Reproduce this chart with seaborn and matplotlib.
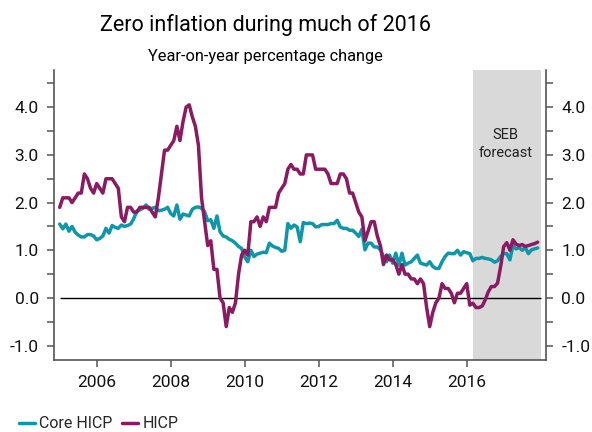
import numpy as np
import pandas as pd
import matplotlib
matplotlib.use('Agg')
import matplotlib.pyplot as plt
import seaborn as sns

# monthly data, Jan 2005 - Dec 2017 (from Mar 2016: SEB forecast)
years = list(range(2005, 2018))

hicp = [
    [1.9, 2.1, 2.1, 2.1, 2.0, 2.1, 2.2, 2.2, 2.6, 2.5, 2.3, 2.2],      # 2005
    [2.4, 2.3, 2.2, 2.5, 2.5, 2.5, 2.4, 2.3, 1.7, 1.6, 1.9, 1.9],      # 2006
    [1.8, 1.8, 1.9, 1.9, 1.9, 1.9, 1.8, 1.7, 2.1, 2.6, 3.1, 3.1],      # 2007
    [3.2, 3.3, 3.6, 3.3, 3.7, 4.0, 4.05, 3.8, 3.6, 3.2, 2.1, 1.6],     # 2008
    [1.1, 1.2, 0.6, 0.6, 0.0, -0.1, -0.6, -0.2, -0.3, -0.1, 0.5, 0.9], # 2009
    [1.0, 0.9, 1.6, 1.6, 1.7, 1.5, 1.7, 1.6, 1.9, 1.9, 1.9, 2.2],      # 2010
    [2.3, 2.4, 2.7, 2.8, 2.7, 2.7, 2.6, 2.6, 3.0, 3.0, 3.0, 2.7],      # 2011
    [2.7, 2.7, 2.7, 2.6, 2.4, 2.4, 2.4, 2.6, 2.6, 2.5, 2.2, 2.2],      # 2012
    [2.0, 1.8, 1.7, 1.2, 1.4, 1.6, 1.6, 1.3, 1.1, 0.7, 0.9, 0.8],      # 2013
    [0.8, 0.7, 0.5, 0.7, 0.5, 0.5, 0.4, 0.4, 0.3, 0.4, 0.3, -0.2],     # 2014
    [-0.6, -0.3, -0.1, 0.0, 0.3, 0.2, 0.2, 0.1, -0.1, 0.1, 0.1, 0.2],  # 2015
    [0.3, -0.15, -0.11, -0.2, -0.2, -0.17, -0.04, 0.13, 0.24, 0.24, 0.31, 0.66],  # 2016
    [1.08, 1.16, 1.0, 1.22, 1.13, 1.1, 1.12, 1.08, 1.1, 1.12, 1.14, 1.17],        # 2017
]

core = [
    [1.55, 1.45, 1.55, 1.40, 1.50, 1.38, 1.32, 1.28, 1.28, 1.33, 1.33, 1.30],
    [1.22, 1.25, 1.30, 1.46, 1.36, 1.52, 1.48, 1.46, 1.53, 1.50, 1.52, 1.55],
    [1.66, 1.82, 1.85, 1.88, 1.95, 1.86, 1.88, 1.90, 1.83, 1.84, 1.86, 1.90],
    [1.77, 1.72, 1.95, 1.65, 1.76, 1.74, 1.72, 1.86, 1.90, 1.91, 1.88, 1.81],
    [1.62, 1.64, 1.46, 1.72, 1.39, 1.30, 1.28, 1.23, 1.20, 1.15, 1.08, 1.04],
    [0.86, 0.76, 1.00, 0.87, 0.92, 0.94, 0.96, 0.95, 1.15, 1.09, 1.06, 1.04],
    [0.98, 1.00, 1.56, 1.46, 1.53, 1.49, 1.18, 1.58, 1.56, 1.57, 1.56, 1.49],
    [1.50, 1.54, 1.54, 1.54, 1.56, 1.56, 1.63, 1.49, 1.46, 1.46, 1.42, 1.42],
    [1.36, 1.29, 1.44, 1.01, 1.15, 1.15, 1.07, 1.07, 1.01, 0.87, 0.76, 0.90],
    [0.73, 0.94, 0.69, 0.94, 0.69, 0.73, 0.76, 0.83, 0.90, 0.73, 0.71, 0.69],
    [0.76, 0.66, 0.62, 0.62, 0.76, 0.87, 0.94, 0.93, 0.93, 1.00, 0.90, 0.97],
    [0.95, 0.93, 0.78, 0.83, 0.83, 0.85, 0.83, 0.82, 0.80, 0.75, 0.78, 0.87],
    [0.93, 0.93, 0.80, 1.10, 1.03, 1.06, 1.00, 1.06, 0.93, 1.01, 1.03, 1.05],
]

forecast_start = 2016 + 2/12
forecast_end = 2018.0

t = np.array([y + m/12 for y in years for m in range(12)])
df = pd.DataFrame({'date': np.concatenate([t, t]),
                   'value': np.concatenate([np.ravel(core), np.ravel(hicp)]),
                   'series': ['Core HICP']*len(t) + ['HICP']*len(t)})

sns.set_style('ticks')
plt.rcParams['font.family'] = ['Roboto', 'DejaVu Sans']

fig = plt.figure(figsize=(5.92, 4.32), dpi=100)
ax = fig.add_axes([54/592, 1-360/432, 492/592, 290/432])

ax.axvspan(forecast_start, forecast_end, color='#d9d9d9', lw=0, zorder=0)
ax.hlines(0, 2005, 2018, color='black', lw=1, zorder=1)

sns.lineplot(data=df, x='date', y='value', hue='series',
             palette={'Core HICP': '#0e97ab', 'HICP': '#8a1a62'},
             lw=2.5, ax=ax, zorder=3)

ax.set_xlim(2004.846, 2018.143)
ax.set_ylim(-1.3, 4.78)
ax.set_xticks([2006, 2008, 2010, 2012, 2014, 2016])
ax.set_xticklabels(['2006', '2008', '2010', '2012', '2014', '2016'])
ax.set_yticks(np.arange(-1, 4.6, 0.5))
ax.set_yticklabels([('%.1f' % v if v == int(v) else '') for v in np.arange(-1, 4.6, 0.5)])
ax.set_xlabel('')
ax.set_ylabel('')

for s in ['left', 'right', 'bottom']:
    ax.spines[s].set_color('#555555')
    ax.spines[s].set_linewidth(1.2)
ax.spines['top'].set_visible(False)
ax.tick_params(axis='both', length=5, width=1.1, color='#555555',
               labelsize=12.5, labelcolor='#111111', pad=6)
ax.tick_params(axis='y', right=True, labelright=True)

ax.text(2017.05, 3.22, 'SEB\nforecast', ha='center', va='center',
        fontsize=10.5, color='#222222', linespacing=1.35)

fig.text(265/592, 1-25/432, 'Zero inflation during much of 2016',
         ha='center', va='center', fontsize=15.5, color='black')
fig.text(265/592, 1-57/432, 'Year-on-year percentage change',
         ha='center', va='center', fontsize=11.8, color='black')

ax.legend(loc='center left', bbox_to_anchor=(-0.085, -0.22), ncol=2,
          frameon=False, fontsize=11.5, handlelength=1.0, handletextpad=0.3,
          columnspacing=0.6, borderaxespad=0)

fig.savefig('out.png', dpi=100)
